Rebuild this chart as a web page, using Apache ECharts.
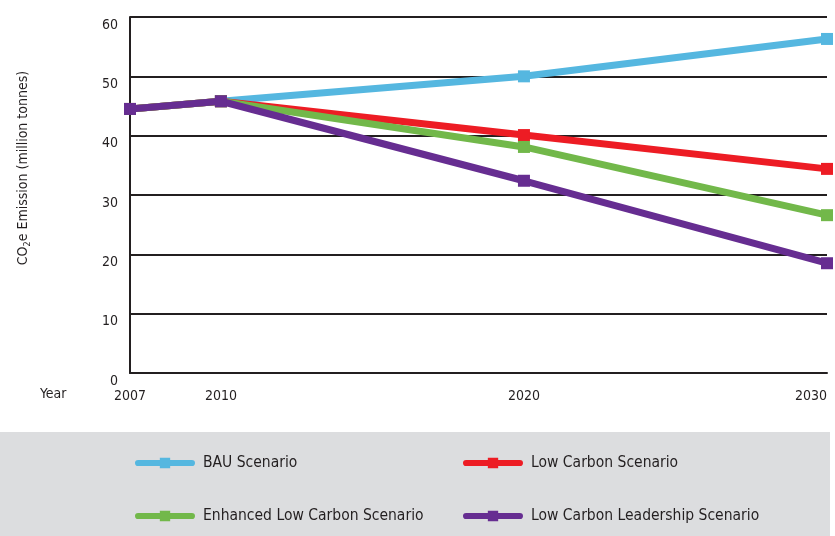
<!DOCTYPE html>
<html>
<head>
<meta charset="utf-8">
<script src="https://cdn.jsdelivr.net/npm/echarts@6/dist/echarts.min.js"></script>
<style>
  html, body { margin: 0; padding: 0; background: #ffffff; }
  #chart { width: 835px; height: 536px; }
</style>
</head>
<body>
<div id="chart"></div>
<script>
// Projection years and CO2e emission scenarios (million tonnes)
const years = [2007, 2010, 2020, 2030];
const bau = [44.5, 45.8, 50.0, 56.3];
const lowCarbon = [44.5, 45.8, 40.1, 34.4];
const enhancedLowCarbon = [44.5, 45.8, 38.1, 26.6];
const leadership = [44.5, 45.8, 32.4, 18.5];
const yTicks = [0, 10, 20, 30, 40, 50, 60];

const seriesNames = ['BAU Scenario', 'Low Carbon Scenario', 'Enhanced Low Carbon Scenario', 'Low Carbon Leadership Scenario'];
const seriesValues = [bau, lowCarbon, enhancedLowCarbon, leadership];
const colors = ['#55b7e0', '#ed1c24', '#72b84a', '#662d91'];

const FONT = '"DejaVu Sans Condensed", "Liberation Sans Narrow", sans-serif';
const INK = '#231f20';

const chart = echarts.init(document.getElementById('chart'), null, { renderer: 'canvas' });

const legendBase = {
  orient: 'vertical',
  padding: 0,
  itemWidth: 60,
  itemHeight: 12,
  itemGap: 37,
  icon: 'path://M4,3 L56,3 A3,3 0 0 1 56,9 L4,9 A3,3 0 0 1 4,3 Z M25,1 L35,1 L35,11 L25,11 Z',
  textStyle: { fontFamily: FONT, fontSize: 15.5, lineHeight: 16, color: INK, padding: [0, 0, 0, 3] }
};

chart.setOption({
  animation: false,
  backgroundColor: '#ffffff',
  graphic: [
    { type: 'rect', left: 0, top: 432, shape: { width: 830, height: 104 }, style: { fill: '#dcdddf' }, z: -10 },
    { type: 'text', left: 40, top: 387, style: { text: 'Year', font: '14px ' + FONT, fill: INK } },
    {
      type: 'text', x: 23, y: 168, rotation: Math.PI / 2,
      style: {
        text: '{t|CO}{s|2}{t|e Emission (million tonnes)}',
        align: 'center', verticalAlign: 'middle',
        rich: {
          t: { fontFamily: FONT, fontSize: 14, fill: INK, color: INK },
          s: { fontFamily: FONT, fontSize: 9, fill: INK, color: INK, padding: [9, 0, 0, 0] }
        }
      }
    }
  ],
  legend: [
    Object.assign({}, legendBase, { left: 135, top: 455, data: [seriesNames[0], seriesNames[2]] }),
    Object.assign({}, legendBase, { left: 463, top: 455, data: [seriesNames[1], seriesNames[3]] })
  ],
  grid: { left: 130, right: 8, top: 17, bottom: 163, containLabel: false },
  xAxis: {
    type: 'value',
    min: years[0],
    max: years[years.length - 1],
    splitLine: { show: false },
    axisLine: { show: true, lineStyle: { color: INK, width: 2 } },
    axisTick: { show: false },
    axisLabel: {
      customValues: years,
      formatter: v => String(v),
      fontFamily: FONT, fontSize: 14, color: INK,
      margin: 16,
      alignMaxLabel: 'right'
    }
  },
  yAxis: {
    type: 'value',
    min: yTicks[0],
    max: yTicks[yTicks.length - 1],
    interval: 10,
    axisLine: { show: true, lineStyle: { color: INK, width: 2 } },
    axisTick: { show: false },
    splitLine: { show: true, lineStyle: { color: INK, width: 2 } },
    axisLabel: {
      fontFamily: FONT, fontSize: 14, color: INK,
      margin: 12,
      verticalAlign: 'top',
      padding: [1, 0, 0, 0]
    }
  },
  series: seriesNames.map((name, i) => ({
    name: name,
    type: 'line',
    data: years.map((y, j) => [y, seriesValues[i][j]]),
    symbol: 'rect',
    symbolSize: 12,
    color: colors[i],
    lineStyle: { width: 7, color: colors[i] },
    itemStyle: { color: colors[i] },
    z: 2 + i,
    clip: false
  }))
});
</script>
</body>
</html>
